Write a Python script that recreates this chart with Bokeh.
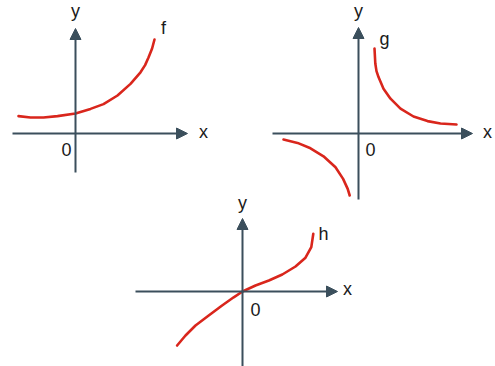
from bokeh.plotting import figure
from bokeh.models import Range1d, Arrow, NormalHead
from bokeh.layouts import column, row
from bokeh.embed import file_html
from bokeh.resources import INLINE
from bokeh.core.properties import value

# ---- data (math units) ----
f_x = [-2.85, -2.25, -1.6, -0.9, 0.0, 0.75, 1.4, 2.1, 2.75, 3.25, 3.48, 3.65, 3.83, 3.95]
f_y = [0.87, 0.8, 0.8, 0.87, 1.0, 1.23, 1.47, 1.9, 2.48, 3.06, 3.42, 3.8, 4.25, 4.7]

g_x_pos = [0.8, 0.84, 0.9, 1.0, 1.25, 1.6, 2.1, 2.75, 3.45, 4.1, 4.9]
g_y_pos = [4.25, 3.5, 3.12, 2.82, 2.24, 1.74, 1.24, 0.85, 0.62, 0.5, 0.45]
g_x_neg = [-3.75, -3.05, -2.4, -1.75, -1.15, -0.77, -0.54, -0.44]
g_y_neg = [-0.3, -0.47, -0.74, -1.14, -1.69, -2.27, -2.77, -3.1]

h_x = [-3.27, -2.85, -2.35, -1.69, -1.02, -0.44, 0.0, 0.65, 1.32, 1.99, 2.65, 3.15, 3.44, 3.54]
h_y = [-2.7, -2.2, -1.7, -1.2, -0.7, -0.29, 0.0, 0.3, 0.55, 0.85, 1.25, 1.69, 2.22, 2.89]

# axis extents (x_min, x_max, y_min, y_max)
f_axes = [-3.15, 5.6, -1.95, 5.25]
g_axes = [-4.3, 5.7, -3.3, 5.3]
h_axes = [-5.35, 4.75, -3.8, 3.65]

AXIS = "#3b4f5c"
RED = "#d9261c"
FONT = "Liberation Sans"
FS = "18px"
S = 20.0  # px per unit


def make_fig(w, h, ox, oy):
    p = figure(width=w, height=h, output_backend="svg", toolbar_location=None,
               x_range=Range1d(-ox / S, (w - ox) / S),
               y_range=Range1d(-(h - oy) / S, oy / S),
               min_border=0, min_border_left=0, min_border_right=0,
               min_border_top=0, min_border_bottom=0)
    p.axis.visible = False
    p.grid.visible = False
    p.outline_line_color = None
    p.background_fill_color = "white"
    p.border_fill_color = "white"
    return p


def add_axes(p, ext):
    x0, x1, y0, y1 = ext
    p.add_layout(Arrow(end=NormalHead(size=11, fill_color=AXIS, line_color=AXIS),
                       x_start=x0, y_start=0, x_end=x1, y_end=0,
                       line_color=AXIS, line_width=2))
    p.add_layout(Arrow(end=NormalHead(size=11, fill_color=AXIS, line_color=AXIS),
                       x_start=0, y_start=y0, x_end=0, y_end=y1,
                       line_color=AXIS, line_width=2))


def label(p, x, y, t):
    p.text(x=[x], y=[y], text=[t], text_font=value(FONT), text_font_size=FS,
           text_align="center", text_baseline="middle", text_color="#1a1a1a")


def curve(p, xs, ys):
    p.line(xs, ys, line_color=RED, line_width=2.6, line_join="round", line_cap="round")


# f (top left)
pf = make_fig(250, 216, 75, 133)
add_axes(pf, f_axes)
curve(pf, f_x, f_y)
label(pf, 0, 6.12, "y")
label(pf, 4.4, 5.3, "f")
label(pf, -0.45, -0.8, "0")
label(pf, 6.4, 0.08, "x")
# the "y" of the lower chart sits inside this panel's area
label(pf, 8.35, -3.45, "y")

# g (top right)
pg = make_fig(245, 216, 108, 133)
add_axes(pg, g_axes)
curve(pg, g_x_pos, g_y_pos)
curve(pg, g_x_neg, g_y_neg)
label(pg, 0, 6.12, "y")
label(pg, 1.3, 4.72, "g")
label(pg, 0.6, -0.8, "0")
label(pg, 6.45, 0.08, "x")

# h (bottom)
ph = make_fig(495, 150, 242, 75)
add_axes(ph, h_axes)
curve(ph, h_x, h_y)
label(ph, 4.05, 2.9, "h")
label(ph, 0.65, -0.88, "0")
label(ph, 5.25, 0.13, "x")

layout = column(row(pf, pg, spacing=0), ph, spacing=0)

open("out.html", "w").write(file_html(layout, INLINE))
